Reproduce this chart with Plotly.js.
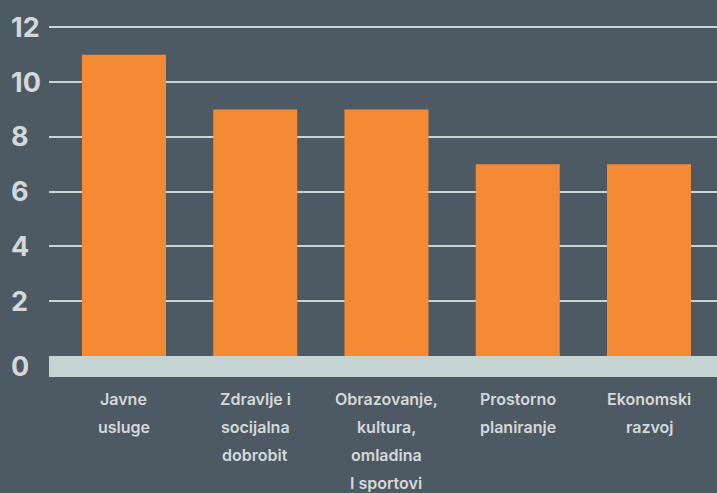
<!DOCTYPE html>
<html>
<head>
<meta charset="utf-8">
<script src="https://cdn.plot.ly/plotly-3.0.1.min.js"></script>
<style>html,body{margin:0;padding:0;background:#4d5a63;}</style>
</head>
<body>
<div id="chart" style="width:717px;height:493px;"></div>
<script>
// Data
const categories = ["Javne usluge", "Zdravlje i socijalna dobrobit", "Obrazovanje, kultura, omladina I sportovi", "Prostorno planiranje", "Ekonomski razvoj"];
const categoryLines = [
  ["Javne", "usluge"],
  ["Zdravlje i", "socijalna", "dobrobit"],
  ["Obrazovanje,", "kultura,", "omladina", "I sportovi"],
  ["Prostorno", "planiranje"],
  ["Ekonomski", "razvoj"]
];
const values = [11, 9, 9, 7, 7];
const yTickVals = [0, 2, 4, 6, 8, 10, 12];
const yTickText = ["0", "2", "4", "6", "8", "10", "12"];

// Styling
const bg = "#4d5a63";
const orange = "#f58a35";
const band = "#c5d3d3";
const grid = "#c8d5d5";
const textCol = "#d5d8da";
const yMin = -0.766;

const annotations = [];
yTickVals.forEach((v, i) => {
  annotations.push({
    xref: "paper", yref: "y",
    x: -40 / 668, xanchor: "left",
    y: v === 0 ? yMin / 2 : v, yanchor: "middle",
    text: yTickText[i], showarrow: false,
    font: {family: "Inter, 'Open Sans', sans-serif", size: 27, color: textCol, weight: 700}
  });
});
categoryLines.forEach((lines, ci) => {
  lines.forEach((ln, li) => {
    annotations.push({
      xref: "x", yref: "paper",
      x: ci, xanchor: "center",
      y: 0, yanchor: "middle",
      yshift: -(21.5 + li * 28.2),
      text: ln, showarrow: false,
      font: {family: "Inter, 'Open Sans', sans-serif", size: 16, color: textCol, weight: 600}
    });
  });
});

const trace = {
  type: "bar",
  x: categories.map((c, i) => i),
  y: values,
  marker: {color: orange, line: {width: 0}},
  hoverinfo: "skip"
};

const layout = {
  width: 717, height: 493,
  margin: {l: 49, r: 0, t: 10, b: 116},
  paper_bgcolor: bg, plot_bgcolor: bg,
  bargap: 0.36,
  showlegend: false,
  xaxis: {
    range: [-0.571, 4.518], showticklabels: false, showgrid: false,
    zeroline: false, showline: false, ticks: "", fixedrange: true
  },
  yaxis: {
    range: [yMin, 12.63], tickvals: yTickVals.filter(v => v > 0),
    showticklabels: false, showgrid: true, gridcolor: grid, gridwidth: 2,
    zeroline: false, showline: false, ticks: "", fixedrange: true
  },
  shapes: [{
    type: "rect", xref: "paper", yref: "y",
    x0: 0, x1: 1, y0: yMin, y1: 0,
    fillcolor: band, line: {width: 0}, layer: "between"
  }],
  annotations: annotations
};

Plotly.newPlot("chart", [trace], layout, {displayModeBar: false, staticPlot: true});
</script>
</body>
</html>
